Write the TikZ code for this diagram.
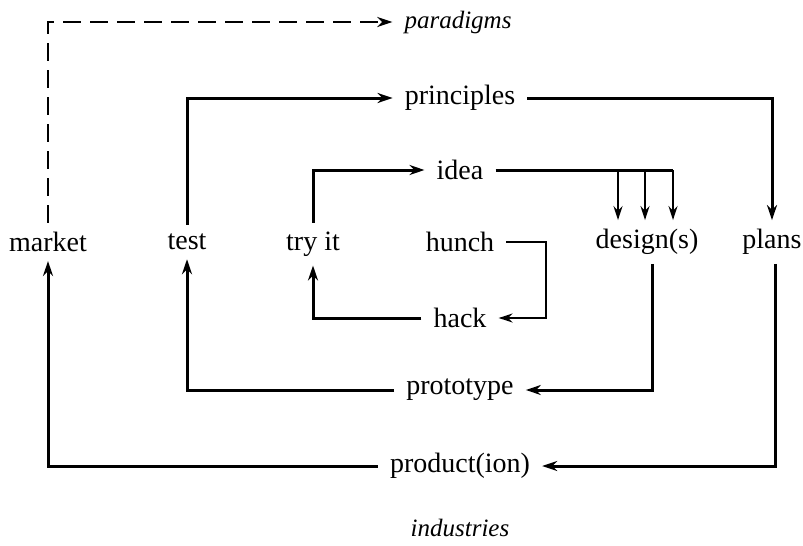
\documentclass[tikz,border=0pt]{standalone}
\usepackage{fontspec}
\setmainfont{Liberation Serif}
\usetikzlibrary{arrows.meta}

\begin{document}
\begin{tikzpicture}[x=1pt, y=-1pt, w/.style={font=\fontsize{28}{32}\selectfont, inner xsep=12pt, inner ysep=9pt}, it/.style={w, font=\fontsize{25}{28}\selectfont\itshape}, a/.style={-{Stealth[length=15pt, width=10pt]}, line width=3pt}, t/.style={-{Stealth[length=14pt, width=9pt]}, line width=2pt}]
		\useasboundingbox (0,0) rectangle (803,546);
		\node[it] (paradigms) at (458,22) {paradigms};
		\node[w] (principles) at (460,98) {principles};
		\node[w] (idea) at (460,170) {idea};
		\node[w] (market) at (48,242) {market};
		\node[w] (test) at (187,242) {test};
		\node[w] (tryit) at (313,244) {try it};
		\node[w] (hunch) at (460,242) {hunch};
		\node[w] (designs) at (647,242) {design(s)};
		\node[w] (plans) at (772,242) {plans};
		\node[w] (hack) at (460,318) {hack};
		\node[w] (prototype) at (460,390) {prototype};
		\node[w] (product) at (460,466) {product(ion)};
		\node[it] (industries) at (460,528) {industries};


		\draw[a, line width=2.5pt, dash pattern=on 18pt off 9pt] (market.north) |- (paradigms.west);
		\draw[a] (test.north) |- (principles.west);
		\draw[a] (principles.east) -| (plans.north);
		\draw[a] (tryit.north) |- (idea.west);
		\draw[line width=3pt] (idea.east) -- ([xshift=26pt]idea.east -| designs.north);
		\foreach \dx in {-29,-2,26}
			\draw[t] ([xshift=\dx pt]idea.east -| designs.north) -- ([xshift=\dx pt]designs.north);
		\draw[t] (hunch.east) -- ([xshift=40pt]hunch.east) |- (hack.east);
		\draw[a] (hack.west) -| (tryit.south);
		\draw[a] ([xshift=5pt]designs.south) |- (prototype.east);
		\draw[a] (prototype.west) -| (test.south);
		\draw[a] ([xshift=3pt]plans.south) |- (product.east);
		\draw[a] (product.west) -| (market.south);
	\end{tikzpicture}
\end{document}
